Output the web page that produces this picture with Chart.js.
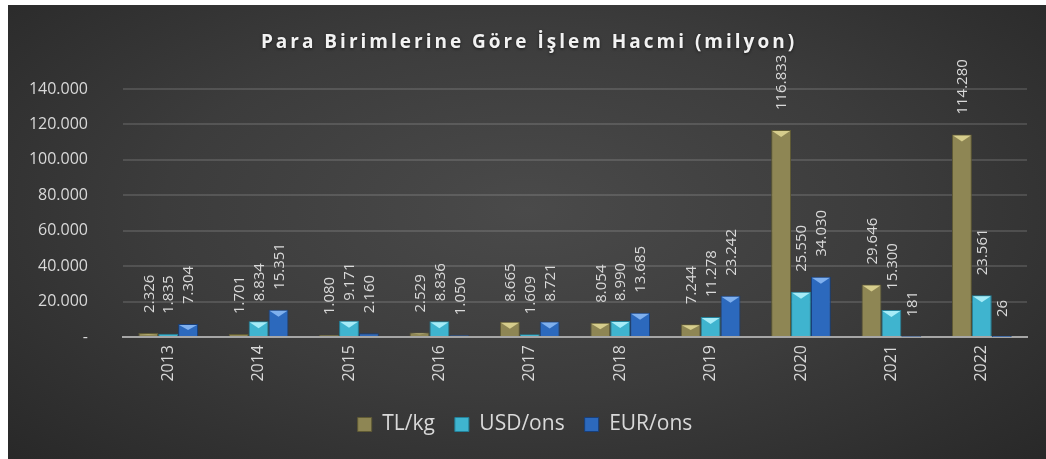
<!DOCTYPE html>
<html lang="tr">
<head>
<meta charset="utf-8">
<title>Para Birimlerine Göre İşlem Hacmi</title>
<script src="https://cdn.jsdelivr.net/npm/chart.js@4/dist/chart.umd.min.js"></script>
<style>
    html, body { margin: 0; padding: 0; background: #fff; }
    body { width: 1046px; height: 459px; overflow: hidden; position: relative; }
    .chart-box {
        position: absolute; left: 8px; top: 5px; width: 1038px; height: 454px;
        background: radial-gradient(ellipse 70% 80% at 50% 45%, #4a4a4a 0%, #3c3c3c 50%, #282828 100%);
    }
    canvas { display: block; }
</style>
</head>
<body>
<div class="chart-box">
    <canvas id="volumeChart" width="1038" height="454"></canvas>
</div>
<script>
// --- DATA ---
const years = ['2013', '2014', '2015', '2016', '2017', '2018', '2019', '2020', '2021', '2022'];
const tlKg   = [2326, 1701, 1080, 2529, 8665, 8054, 7244, 116833, 29646, 114280];
const usdOns = [1835, 8834, 9171, 8836, 1609, 8990, 11278, 25550, 15300, 23561];
const eurOns = [7304, 15351, 2160, 1050, 8721, 13685, 23242, 34030, 181, 26];
const yTicks = [0, 20000, 40000, 60000, 80000, 100000, 120000, 140000];

const chartTitle = 'Para Birimlerine Göre İşlem Hacmi (milyon)';
const textColor = '#d9d9d9';
const fontFamily = '"Open Sans", "Noto Sans", sans-serif';

// base, border, highlight (bevel top)
const palette = {
    tl:  ['#8e8654', '#5f5a34', '#d6cd8c'],
    usd: ['#3fb4cf', '#23819a', '#a6ecf8'],
    eur: ['#2c69bd', '#183f7a', '#7fb0ee']
};

const fmt = v => v === 0 ? '-' : v.toLocaleString('tr-TR');

// --- PLUGINS ---
const titlePlugin = {
    id: 'spacedTitle',
    afterDraw(chart) {
        const ctx = chart.ctx;
        ctx.save();
        ctx.font = `bold 19px ${fontFamily}`;
        ctx.letterSpacing = '3px';
        ctx.fillStyle = '#f2f2f2';
        ctx.textAlign = 'center';
        ctx.textBaseline = 'middle';
        ctx.shadowColor = 'rgba(0,0,0,0.6)';
        ctx.shadowBlur = 3;
        ctx.shadowOffsetY = 1;
        ctx.fillText(chartTitle, chart.width / 2 + 2, 38);
        ctx.restore();
    }
};

const bevelPlugin = {
    id: 'bevelTops',
    afterDatasetsDraw(chart) {
        const ctx = chart.ctx;
        ctx.save();
        chart.data.datasets.forEach((ds, i) => {
            const meta = chart.getDatasetMeta(i);
            const hl = ds.highlight;
            meta.data.forEach(bar => {
                const h = bar.base - bar.y;
                if (h < 3) return;
                const half = bar.width / 2;
                const th = Math.min(7, h / 2);
                ctx.fillStyle = hl;
                ctx.beginPath();
                ctx.moveTo(bar.x - half + 1, bar.y + 1);
                ctx.lineTo(bar.x + half - 1, bar.y + 1);
                ctx.lineTo(bar.x, bar.y + th);
                ctx.closePath();
                ctx.fill();
            });
        });
        ctx.restore();
    }
};

const labelPlugin = {
    id: 'rotatedLabels',
    afterDatasetsDraw(chart) {
        const ctx = chart.ctx;
        ctx.save();
        ctx.font = `15px ${fontFamily}`;
        ctx.fillStyle = textColor;
        ctx.textAlign = 'left';
        ctx.textBaseline = 'middle';
        chart.data.datasets.forEach((ds, i) => {
            const meta = chart.getDatasetMeta(i);
            meta.data.forEach((bar, j) => {
                ctx.save();
                ctx.translate(bar.x + 1, bar.y - 20);
                ctx.rotate(-Math.PI / 2);
                ctx.fillText(fmt(ds.data[j]), 0, 0);
                ctx.restore();
            });
        });
        ctx.restore();
    }
};

function makeDataset(label, data, colors) {
    return {
        label: label,
        data: data,
        backgroundColor: colors[0],
        borderColor: colors[1],
        borderWidth: 1,
        highlight: colors[2],
        categoryPercentage: 0.66,
        barPercentage: 1.0
    };
}

// --- CHART ---
new Chart(document.getElementById('volumeChart'), {
    type: 'bar',
    data: {
        labels: years,
        datasets: [
            makeDataset('TL/kg', tlKg, palette.tl),
            makeDataset('USD/ons', usdOns, palette.usd),
            makeDataset('EUR/ons', eurOns, palette.eur)
        ]
    },
    options: {
        responsive: false,
        animation: false,
        layout: { padding: { top: 84, left: 15, right: 19, bottom: 14 } },
        plugins: {
            title: { display: false },
            tooltip: { enabled: false },
            legend: {
                position: 'bottom',
                labels: {
                    color: textColor,
                    font: { family: fontFamily, size: 21 },
                    boxWidth: 14,
                    boxHeight: 14,
                    padding: 20
                }
            }
        },
        scales: {
            x: {
                grid: { display: false, drawTicks: false },
                border: { display: true, color: '#a6a6a6', width: 2 },
                ticks: {
                    color: textColor,
                    font: { family: fontFamily, size: 16 },
                    minRotation: 90,
                    maxRotation: 90,
                    padding: 8
                },
                afterFit(scale) { scale.height = 57; }
            },
            y: {
                min: 0,
                max: 140000,
                afterBuildTicks(scale) { scale.ticks = yTicks.map(v => ({ value: v })); },
                grid: { color: 'rgba(255,255,255,0.13)', drawTicks: false, lineWidth: 2 },
                border: { display: false },
                ticks: {
                    color: textColor,
                    font: { family: fontFamily, size: 16 },
                    padding: 35,
                    callback: v => fmt(v)
                },
                afterFit(scale) { scale.width = 100; }
            }
        }
    },
    plugins: [bevelPlugin, labelPlugin, titlePlugin]
});
</script>
</body>
</html>
